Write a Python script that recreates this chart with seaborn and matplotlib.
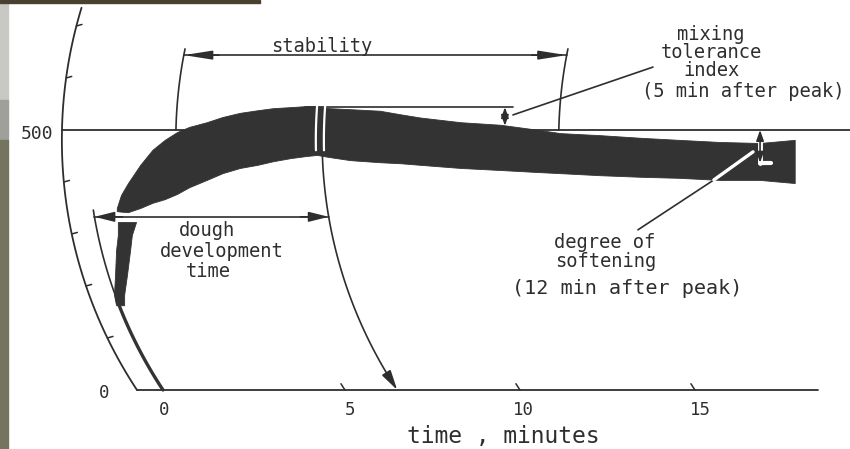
import numpy as np
import matplotlib
matplotlib.use("Agg")
import matplotlib.pyplot as plt
import seaborn as sns
from matplotlib.patches import Rectangle

# ---------------- data (time in minutes, consistency in Brabender units) ----------------
band_time = [-1.52, -1.4, -1.2, -0.85, -0.5, -0.15, 0.2, 0.55, 1.05, 1.5, 2.0, 2.5, 2.95,
             3.45, 3.9, 4.2, 4.55, 5.15, 6.0, 6.6, 7.15, 8.3, 9.45, 10.55, 11.15, 12.3, 13.45,
             14.55, 15.7, 16.85, 17.85]
band_upper = [350, 375, 398, 433, 462, 481, 496, 506, 515, 525, 533, 538, 542,
              544, 546, 546, 542, 540, 537, 530, 524, 515, 510, 500, 494, 490, 485,
              481, 477, 475, 481]
band_lower = [344, 343, 342, 350, 360, 367, 377, 390, 404, 417, 427, 433, 440,
              446, 450, 452, 448, 442, 438, 436, 433, 427, 423, 419, 417, 413, 410,
              408, 404, 404, 398]

# rising part of the trace (nearly vertical), given as x-range per consistency level
rise_bu = [323, 298, 269, 221, 183, 163]
rise_left = [-1.49, -1.49, -1.54, -1.57, -1.60, -1.54]
rise_right = [-0.97, -1.09, -1.14, -1.23, -1.31, -1.31]

x_ticks = [0, 5, 10, 15]
x_tick_labels = ["0", "5", "10", "15"]
y_ticks = [100, 200, 300, 400, 600, 700]
line_500 = 500

zero_base = -0.2        # time-0 arc (at baseline)
axis_base = -0.943      # chart axis arc (at baseline)
peak_t500 = 4.35        # peak arc position on the 500 BU line
stab_start = 0.17       # arrival time on the 500 BU line
stab_end = 11.11        # departure time from the 500 BU line
mti_level = 544         # peak consistency
mti_value = 508         # consistency 5 min after peak
mti_time = 9.57
dos_time = 16.86
dos_value = 437         # consistency 12 min after peak
ddt_level = 333

INK = "#2e2e2e"
BAND = "#333333"

# ---------------- arc geometry of the recorder pen ----------------
R_PX, SX, SY, YC = 454.0, 35.0, 0.52, 481.0


def arc_offset(y):
    dy = (np.asarray(y, dtype=float) - YC) * SY
    return (R_PX - np.sqrt(R_PX ** 2 - dy ** 2)) / SX


def arc_base(tb, y):
    return tb + arc_offset(y) - arc_offset(0)


def arc500(t5, y):
    return t5 + arc_offset(y) - arc_offset(500)


sns.set_theme(style="white")
plt.rcParams["font.family"] = ["DejaVu Sans Mono", "DejaVu Sans"]

fig = plt.figure(figsize=(8.5, 4.49), dpi=100)
ax = fig.add_axes([0, 0, 1, 1])
ax.set_xlim(-4.857, 19.43)
ax.set_ylim(-113.5, 750)
ax.axis("off")


def line(x, y, lw=1.3, color=INK, z=3):
    sns.lineplot(x=np.asarray(x, float), y=np.asarray(y, float), ax=ax, color=color,
                 linewidth=lw, estimator=None, sort=False, zorder=z, legend=False)


def arrow(p_from, p_to, style="-|>", hl=1.0, hw=0.2, lw=1.2, ms=12, color=INK, z=6):
    ax.annotate("", xy=p_to, xytext=p_from,
                arrowprops=dict(arrowstyle=f"{style},head_length={hl},head_width={hw}",
                                color=color, lw=lw, shrinkA=0, shrinkB=0,
                                mutation_scale=ms), zorder=z)


# ---------------- scan edge artefacts ----------------
ax.add_patch(Rectangle((0, 0.777), 0.0094, 0.223, transform=ax.transAxes, color="#c9c9c4", zorder=0))
ax.add_patch(Rectangle((0, 0.688), 0.0094, 0.089, transform=ax.transAxes, color="#a0a09a", zorder=0))
ax.add_patch(Rectangle((0, 0.0), 0.0094, 0.688, transform=ax.transAxes, color="#74745f", zorder=0))
ax.add_patch(Rectangle((0, 0.9933), 0.306, 0.0067, transform=ax.transAxes, color="#4a4030", zorder=0))

# ---------------- axes: curved consistency axis, baseline, 500 BU line ----------------
ya = np.linspace(0, 735, 120)
line(arc_base(axis_base, ya), ya, lw=1.3)
for yt in y_ticks:
    xa = float(arc_base(axis_base, yt))
    line([xa, xa + 0.16], [yt, yt + 3], lw=1.1)
line([axis_base, 18.51], [0, 0], lw=1.3)
line([float(arc_base(axis_base, line_500)), 19.43], [line_500, line_500], lw=1.3)
for xt in x_ticks[1:]:
    yy = np.linspace(0, 12, 5)
    line(arc_base(xt, yy), yy, lw=1.1)

# ---------------- the farinogram band ----------------
ax.fill_between(band_time, band_lower, band_upper, color=BAND, lw=0.6, edgecolor=BAND, zorder=4)
ax.fill_betweenx(rise_bu, rise_left, rise_right, color=BAND, lw=0.6, edgecolor=BAND, zorder=4)
yt0 = np.linspace(0, 175, 40)
line(arc_base(zero_base, yt0), yt0, lw=2.4, color=BAND, z=4)

# white peak markers inside the band
for t5 in (peak_t500 - 0.18, peak_t500 + 0.05):
    yy = np.linspace(461, 548, 10)
    line(arc500(t5, yy), yy, lw=1.6, color="white", z=5)

# ---------------- stability ----------------
ys = np.linspace(line_500, 656, 20)
line(arc500(stab_start, ys), ys, lw=1.2)
line(arc500(stab_end, ys), ys, lw=1.2)
ys_level = 644
xs0 = float(arc500(stab_start, ys_level))
xs1 = float(arc500(stab_end, ys_level))
line([xs0, xs1], [ys_level, ys_level], lw=1.2)
arrow((xs0 + 1.0, ys_level), (xs0, ys_level), hl=1.4, hw=0.22)
arrow((xs1 - 1.0, ys_level), (xs1, ys_level), hl=1.4, hw=0.22)
ax.text(4.34, 650.6, "stability", ha="center", va="baseline", fontsize=13.5, color=INK)

# ---------------- mixing tolerance index ----------------
line([3.86, 9.8], [mti_level, mti_level], lw=1.2)
arrow((mti_time, mti_level), (mti_time, mti_value), style="<|-|>", hl=0.7, hw=0.25, ms=9)
line([9.8, 13.8], [529, 621], lw=1.2)
ax.text(15.46, 702, "mixing\ntolerance\nindex", ha="center", va="top", ma="center",
        fontsize=13.5, linespacing=0.92, color=INK)
ax.text(13.49, 564, "(5 min after peak)", ha="left", va="baseline", fontsize=13.5, color=INK)

# ---------------- degree of softening ----------------
line([dos_time, dos_time], [478, dos_value], lw=3.5, color="white", z=5)
line([dos_time, dos_time + 0.3], [dos_value, dos_value], lw=3.0, color="white", z=5)
arrow((dos_time, line_500), (dos_time, dos_value), style="<|-|>", hl=0.7, hw=0.25, ms=9)
line([13.37, 15.54], [308, 404], lw=1.2)
line([15.54, 16.66], [404, 458], lw=2.4, color="white", z=5)
ax.text(12.43, 272.4, "degree of", ha="center", va="baseline", fontsize=13.5, color=INK)
ax.text(12.46, 237.2, "softening", ha="center", va="baseline", fontsize=13.5, color=INK)
ax.text(13.06, 184.6, "(12 min after peak)", ha="center", va="baseline", fontsize=14.5, color=INK)

# ---------------- dough development time ----------------
yz = np.linspace(183, 346, 20)
line(arc_base(zero_base, yz), yz, lw=1.2)
yp = np.linspace(12, 458, 60)
line(arc500(peak_t500, yp), yp, lw=1.2)
arrow((float(arc500(peak_t500, 30)), 30), (float(arc500(peak_t500, 0)), 0), hl=1.2, hw=0.3, ms=10)
xd0 = float(arc_base(zero_base, ddt_level))
xd1 = float(arc500(peak_t500, ddt_level))
line([xd0, xd1], [ddt_level, ddt_level], lw=1.2)
arrow((xd0 + 0.8, ddt_level), (xd0, ddt_level), hl=1.0, hw=0.25)
arrow((xd1 - 0.8, ddt_level), (xd1, ddt_level), hl=1.0, hw=0.25)
ax.text(1.057, 295.6, "dough", ha="center", va="baseline", fontsize=13.5, color=INK)
ax.text(1.486, 256.4, "development", ha="center", va="baseline", fontsize=13.5, color=INK)
ax.text(1.086, 217.9, "time", ha="center", va="baseline", fontsize=13.5, color=INK)

# ---------------- tick labels and axis title ----------------
label_offsets = [-0.17, 0.14, 0.11, 0.17]
for xt, lab, off in zip(x_ticks, x_tick_labels, label_offsets):
    ax.text(xt + off, -49, lab, ha="center", va="baseline", fontsize=12.5, color=INK)
ax.text(-3.8, 482, "500", ha="center", va="baseline", fontsize=13, color=INK)
ax.text(-1.886, -16, "0", ha="center", va="baseline", fontsize=12.5, color=INK)
ax.text(9.51, -102.6, "time , minutes", ha="center", va="baseline", fontsize=16.5, color=INK)

fig.savefig("out.png", dpi=100, facecolor="white")
